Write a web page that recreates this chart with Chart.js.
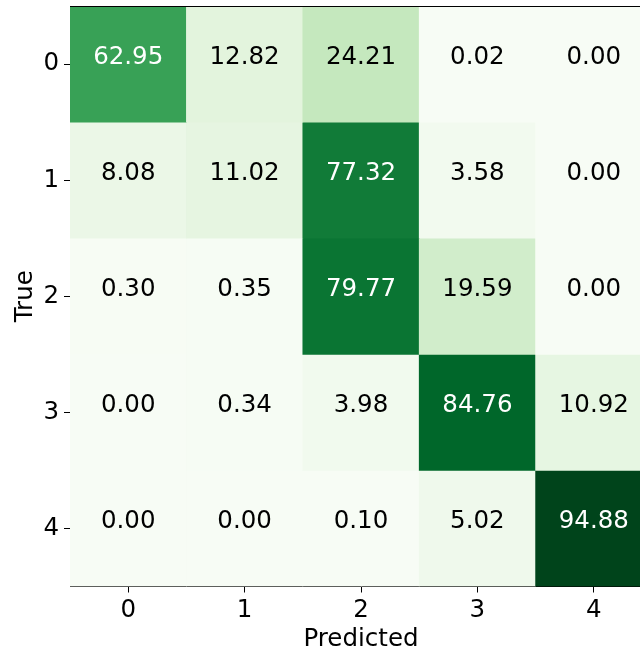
<!DOCTYPE html>
<html>
<head>
<meta charset="utf-8">
<script src="https://cdn.jsdelivr.net/npm/chart.js@4/dist/chart.umd.min.js"></script>
<style>
  html, body { margin: 0; padding: 0; background: #fff; overflow: hidden; }
</style>
</head>
<body>
<canvas id="myChart" width="652" height="652"></canvas>
<script>
const labels = ['0', '1', '2', '3', '4'];
const rowLabels = ['0', '1', '2', '3', '4'];

// confusion matrix, percent, rows = true class
const row0 = [62.95, 12.82, 24.21, 0.02, 0.00];
const row1 = [8.08, 11.02, 77.32, 3.58, 0.00];
const row2 = [0.30, 0.35, 79.77, 19.59, 0.00];
const row3 = [0.00, 0.34, 3.98, 84.76, 10.92];
const row4 = [0.00, 0.00, 0.10, 5.02, 94.88];
const rows = [row0, row1, row2, row3, row4];

// matplotlib "Greens"
const greens = ['#f7fcf5', '#e5f5e0', '#c7e9c0', '#a1d99b', '#74c476', '#41ab5d', '#238b45', '#006d2c', '#00441b'];

const vmax = Math.max(...rows.flat());
const vmin = Math.min(...rows.flat());

function hex(h) {
   return [parseInt(h.slice(1, 3), 16), parseInt(h.slice(3, 5), 16), parseInt(h.slice(5, 7), 16)];
}
function cmap(v) {
   let t = (v - vmin) / (vmax - vmin);
   t = Math.max(0, Math.min(1, t)) * (greens.length - 1);
   const i = Math.min(Math.floor(t), greens.length - 2);
   const f = t - i;
   const a = hex(greens[i]), b = hex(greens[i + 1]);
   const c = a.map((x, k) => Math.round(x + (b[k] - x) * f));
   return 'rgb(' + c.join(',') + ')';
}

const FONT = 'DejaVu Sans';

const cellText = {
   id: 'cellText',
   afterDatasetsDraw(chart) {
      const ctx = chart.ctx;
      const xs = chart.scales.x, ys = chart.scales.y;
      ctx.save();
      ctx.font = '24.5px "' + FONT + '"';
      ctx.textAlign = 'center';
      ctx.textBaseline = 'alphabetic';
      rows.forEach((row, r) => {
         row.forEach((v, c) => {
            ctx.fillStyle = v > vmax / 2 ? '#ffffff' : '#000000';
            ctx.fillText(v.toFixed(2), xs.getPixelForValue(c), ys.getPixelForValue(r));
         });
      });
      // top spine
      const a = chart.chartArea;
      ctx.strokeStyle = '#000';
      ctx.lineWidth = 1;
      ctx.beginPath();
      ctx.moveTo(a.left, a.top + 0.5);
      ctx.lineTo(a.right, a.top + 0.5);
      ctx.stroke();
      ctx.restore();
   }
};

const ctx = document.getElementById('myChart');

new Chart(ctx, {
   type: 'bar',
   data: {
      labels: labels,
      datasets: rows.map((row, r) => ({
         label: 'True ' + rowLabels[r],
         data: row.map(() => [r - 0.5, r + 0.5]),
         backgroundColor: row.map(v => cmap(v)),
         borderWidth: 0,
         barPercentage: 1,
         categoryPercentage: 1,
         grouped: false
      }))
   },
   options: {
      responsive: false,
      animation: false,
      layout: { padding: { top: 6, left: 0, right: 0, bottom: 0 } },
      plugins: {
         legend: { display: false },
         tooltip: { enabled: false }
      },
      scales: {
         x: {
            offset: true,
            grid: { display: true, drawOnChartArea: false, offset: false, tickLength: 6, color: '#000' },
            border: { display: true, color: '#000', width: 1 },
            ticks: { color: '#000', padding: 3, font: { family: FONT, size: 24.5 } },
            title: {
               display: true,
               text: 'Predicted',
               color: '#000',
               font: { family: FONT, size: 24.5 },
               padding: { top: 0, bottom: -2 }
            },
            afterFit(scale) {
               scale.height = 65.5;
               scale.paddingLeft = 0;
               scale.paddingRight = 0;
            }
         },
         y: {
            type: 'linear',
            reverse: true,
            min: -0.5,
            max: 4.5,
            grid: { display: true, drawOnChartArea: false, tickLength: 6, color: '#000' },
            border: { display: true, color: '#000', width: 1 },
            ticks: {
               color: '#000',
               padding: 5,
               font: { family: FONT, size: 24.5 },
               callback: v => rowLabels[Math.round(v)]
            },
            afterBuildTicks(scale) {
               scale.ticks = rowLabels.map((l, i) => ({ value: i }));
            },
            title: {
               display: true,
               text: 'True',
               color: '#000',
               font: { family: FONT, size: 24.5 },
               padding: { top: 11, bottom: 0 }
            },
            afterFit(scale) {
               scale.width = 70;
               scale.paddingTop = 0;
               scale.paddingBottom = 0;
            }
         }
      }
   },
   plugins: [cellText]
});
</script>
</body>
</html>
